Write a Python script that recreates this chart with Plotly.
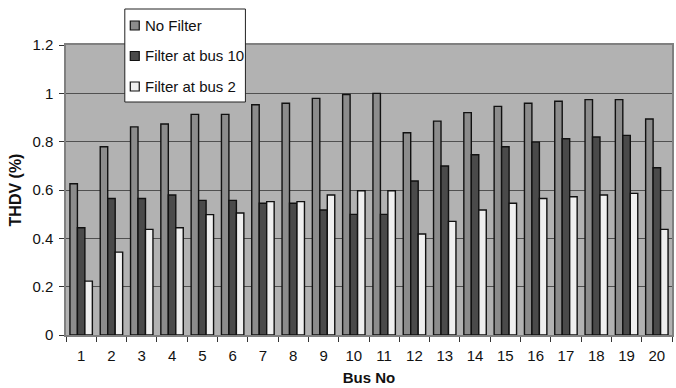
import plotly.graph_objects as go

bus = [str(i) for i in range(1, 21)]
no_filter = [0.626, 0.779, 0.861, 0.873, 0.913, 0.913, 0.953, 0.959, 0.979, 0.995,
             1.0, 0.837, 0.885, 0.92, 0.946, 0.959, 0.967, 0.974, 0.974, 0.894]
filter_bus10 = [0.444, 0.565, 0.565, 0.579, 0.557, 0.557, 0.545, 0.545, 0.517, 0.499,
                0.499, 0.637, 0.699, 0.746, 0.779, 0.798, 0.812, 0.819, 0.826, 0.692]
filter_bus2 = [0.223, 0.343, 0.437, 0.444, 0.498, 0.505, 0.552, 0.552, 0.579, 0.597,
               0.597, 0.418, 0.47, 0.517, 0.545, 0.565, 0.572, 0.579, 0.586, 0.437]

names = ["No Filter", "Filter at bus 10", "Filter at bus 2"]
colors = ["#8c8c8c", "#4a4a4a", "#efefef"]

W, H = 676, 388
L, R, T, B = 66, 2, 45, 53
pw, ph = W - L - R, H - T - B


def px(x):
    return (x - L) / pw


def py(y):
    return (H - B - y) / ph


fig = go.Figure()
for nm, vals, c in zip(names, [no_filter, filter_bus10, filter_bus2], colors):
    fig.add_trace(go.Bar(x=bus, y=vals, name=nm, showlegend=False,
                         marker=dict(color=c, line=dict(color="#111111", width=1.4))))

font = "Liberation Sans, Arial, sans-serif"

# legend box drawn as shapes + annotations
shapes = [dict(type="rect", xref="paper", yref="paper", x0=px(125), x1=px(246),
               y0=py(102), y1=py(9), fillcolor="white",
               line=dict(color="#222222", width=1), layer="above")]
annotations = []
for i, (nm, c) in enumerate(zip(names, colors)):
    cy = 25.5 + 30.5 * i
    shapes.append(dict(type="rect", xref="paper", yref="paper", x0=px(130.5), x1=px(139.5),
                       y0=py(cy + 4.5), y1=py(cy - 4.5), fillcolor=c,
                       line=dict(color="#111111", width=1.2), layer="above"))
    annotations.append(dict(text=nm, xref="paper", yref="paper", x=px(143), y=py(cy),
                            xanchor="left", yanchor="middle", showarrow=False,
                            font=dict(size=15, family=font, color="#111111")))

fig.update_layout(
    width=W, height=H,
    margin=dict(l=L, r=R, t=T, b=B),
    paper_bgcolor="white", plot_bgcolor="#b2b2b2",
    barmode="group", bargap=0.26, bargroupgap=0,
    font=dict(family=font, size=15, color="#111111"),
    showlegend=False,
    shapes=shapes, annotations=annotations,
    xaxis=dict(type="category", tickson="boundaries", ticks="outside", ticklen=5,
               tickcolor="#333333", showline=True, linecolor="#808080", linewidth=1.5,
               mirror=True, showgrid=False, ticklabelstandoff=6,
               title=dict(text="<b>Bus No</b>", font=dict(size=15), standoff=10)),
    yaxis=dict(range=[0, 1.2], dtick=0.2, ticks="outside", ticklen=5, tickcolor="#333333",
               showline=True, linecolor="#808080", linewidth=1.5, mirror=True,
               gridcolor="#505050", gridwidth=1, zeroline=False, ticklabelstandoff=3,
               title=dict(text="<b>THDV (%)</b>", font=dict(size=16), standoff=7)),
)
fig.write_html("out.html")
